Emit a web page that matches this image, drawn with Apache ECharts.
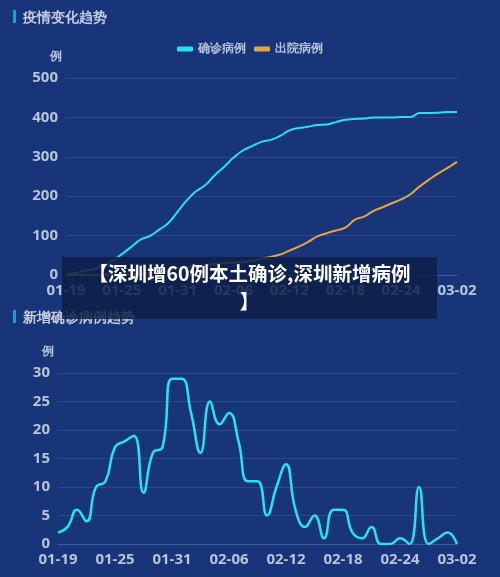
<!DOCTYPE html>
<html><head><meta charset="utf-8">
<script src="https://cdn.jsdelivr.net/npm/echarts@6/dist/echarts.min.js"></script>
<style>html,body{margin:0;padding:0;background:#183579;}#c{width:500px;height:577px;}
#ov{position:absolute;left:62px;top:257px;width:375px;height:62px;background:rgba(14,30,72,0.85);color:#fff;font:bold 19.5px "Noto Sans CJK SC",sans-serif;text-align:center;line-height:28px;padding-top:2px;box-sizing:border-box;}
</style></head><body>
<div id="c"></div>
<div id="ov">【深圳增60例本土确诊,深圳新增病例<br>】</div>
<script>
const dates = ["01-19","01-20","01-21","01-22","01-23","01-24","01-25","01-26","01-27","01-28","01-29","01-30","01-31","02-01","02-02","02-03","02-04","02-05","02-06","02-07","02-08","02-09","02-10","02-11","02-12","02-13","02-14","02-15","02-16","02-17","02-18","02-19","02-20","02-21","02-22","02-23","02-24","02-25","02-26","02-27","02-28","03-01","03-02"];
const confirmed = [2,5,11,15,25,36,53,71,90,99,115,132,161,190,213,229,254,275,298,316,327,338,343,353,367,373,376,381,382,388,394,396,397,400,400,400,401,401,411,411,412,414,414];
const discharged = [0,0,0,0,1,2,2,2,3,5,8,12,16,20,22,25,28,30,31,33,36,42,46,52,62,72,84,98,106,113,120,140,148,162,172,182,192,205,225,242,258,272,287];
const daily = [2,3,6,4,10,11,17,18,19,9,16,17,29,29,23,16,25,21,23,18,11,11,5,10,14,6,3,5,1,6,6,2,1,3,0,0,1,0,10,0,1,2,0];
const lab = {color:'#b8c3dc',fontSize:15,fontWeight:'bold',fontFamily:'Noto Sans'};
const split = {lineStyle:{color:'#2b4a8c'}};
const xAx = (gi)=>({type:'category',gridIndex:gi,data:dates,boundaryGap:false,
  axisLine:{lineStyle:{color:'#3d5a9a'}},axisTick:{show:false},
  axisLabel:Object.assign({interval:5,margin:8},lab)});
const yAx = (gi,max,intv)=>({type:'value',gridIndex:gi,min:0,max:max,interval:intv,name:'例',
  nameTextStyle:{color:'#b8c3dc',fontSize:12,fontWeight:'bold',padding:[0,20,0,0]},
  axisLine:{show:false},axisTick:{show:false},splitLine:split,axisLabel:lab});
const chart = echarts.init(document.getElementById('c'));
chart.setOption({
  backgroundColor:'#183579',
  title:[{text:'疫情变化趋势',left:18,top:6,textStyle:{color:'#c4cce0',fontSize:14,fontWeight:'bold'}},
         {text:'新增确诊病例趋势',left:18,top:306,textStyle:{color:'#c4cce0',fontSize:14,fontWeight:'bold'}}],
  graphic:[{type:'rect',shape:{x:13,y:10,width:3,height:13},style:{fill:'#1e9be0'}},
           {type:'rect',shape:{x:13,y:310,width:3,height:13},style:{fill:'#1e9be0'}}],
  legend:{top:38,left:'center',itemWidth:16,itemHeight:5,icon:'roundRect',
    textStyle:{color:'#b8c3dc',fontSize:12,fontWeight:'bold'},data:['确诊病例','出院病例']},
  grid:[{left:66,right:43,top:78,height:197},{left:58,right:43,top:373,height:171}],
  xAxis:[xAx(0),xAx(1)],
  yAxis:[yAx(0,500,100),yAx(1,30,5)],
  series:[
    {name:'确诊病例',type:'line',xAxisIndex:0,yAxisIndex:0,data:confirmed,smooth:true,showSymbol:false,lineStyle:{color:'#27e3ec',width:2},itemStyle:{color:'#27e3ec'}},
    {name:'出院病例',type:'line',xAxisIndex:0,yAxisIndex:0,data:discharged,smooth:true,showSymbol:false,lineStyle:{color:'#e5a540',width:2},itemStyle:{color:'#e5a540'}},
    {name:'新增',type:'line',xAxisIndex:1,yAxisIndex:1,data:daily,smooth:true,showSymbol:false,lineStyle:{color:'#27e3ec',width:2.5}}
  ]
});
</script></body></html>
